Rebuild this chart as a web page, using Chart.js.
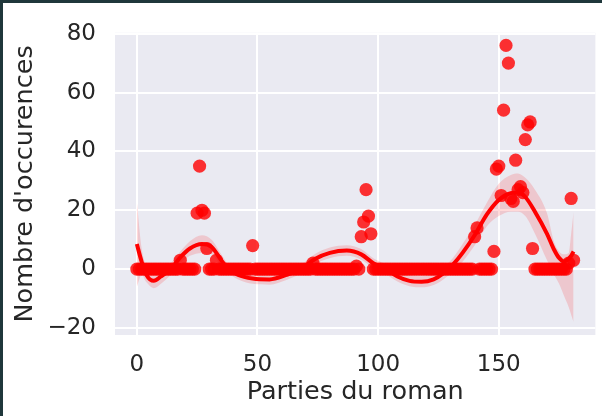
<!DOCTYPE html>
<html><head><meta charset="utf-8">
<script src="https://cdn.jsdelivr.net/npm/chart.js@4/dist/chart.umd.min.js"></script>
<style>html,body{margin:0;padding:0;background:#fff;}canvas{display:block}</style>
</head><body>
<canvas id="c" width="602" height="416"></canvas>
<script>
// Occurrences per part of the novel (index = part number 0..181)
const occurrences = [
  0,0,0,0,0,0,0,0,0,0,
  0,0,0,0,0,0,0,0,3,0,
  0,0,0,0,0,19,35,20,19,7,
  0,0,0,3,0,0,0,0,0,0,
  0,0,0,0,0,0,0,0,8,0,
  0,0,0,0,0,0,0,0,0,0,
  0,0,0,0,0,0,0,0,0,0,
  0,0,0,2,0,0,0,0,0,0,
  0,0,0,0,0,0,0,0,0,0,
  0,1,0,11,16,27,18,12,0,0,
  0,0,0,0,0,0,0,0,0,0,
  0,0,0,0,0,0,0,0,0,0,
  0,0,0,0,0,0,0,0,0,0,
  0,0,0,0,0,0,0,0,0,0,
  11,14,0,0,0,0,0,0,6,34,
  35,25,54,76,70,24,23,37,27,28,
  26,44,49,50,7,0,0,0,0,0,
  0,0,0,0,0,0,0,0,0,2,
  24,3
];
// Regression curve
const fitX    = [0, 2, 4, 7, 10, 14, 18, 22, 27, 31, 35, 38, 42, 48, 55, 62, 68, 74, 80, 87, 93, 98, 103, 108, 113, 118, 123, 127, 131, 135, 140, 145, 150, 155, 158, 161, 165, 170, 173, 175, 177, 179, 180, 181];
const fitY    = [8.5, 2.5, -2, -4, -2.5, 0, 4, 7, 8.5, 7.5, 3, 0, -2, -3.2, -3.5, -2, 0, 3.5, 5.5, 6.3, 5, 2, 0, -2.5, -4, -4.3, -3.5, -1.5, 1.5, 5.5, 11.5, 18.5, 23.5, 25.8, 26, 24.5, 19.5, 12, 6.5, 3.8, 2.6, 3.5, 4.5, 6];
const bandLow = [-6, -2, -4.5, -6.5, -5, -2, 2, 4.5, 5.5, 5, 1, -1.5, -3.5, -5, -5.3, -3.7, -1.5, 1.8, 3.7, 4.5, 3.2, 0.3, -1.7, -4.2, -5.8, -6.2, -5.4, -3.5, -0.8, 2.5, 8, 14.5, 18, 19.5, 19.5, 18, 12, 3, -2, -5, -9, -13, -15.5, -18];
const bandHigh= [23, 7, 1, -1.5, 0, 2, 6, 9.5, 11.5, 10, 5, 1.5, -0.5, -1.5, -1.7, -0.3, 1.5, 5.2, 7.3, 8.1, 6.8, 3.7, 1.7, -0.8, -2.2, -2.4, -1.6, 0.5, 3.8, 8.5, 15, 22.5, 29, 32, 32.5, 31, 27, 19, 9, 6, 5, 5.5, 12, 19.5];
const xTicks = [0, 50, 100, 150];
const yTicks = [-20, 0, 20, 40, 60, 80];
const xLabel = 'Parties du roman';
const yLabel = "Nombre d'occurences";

const pts = occurrences.map((v, i) => ({x: i, y: v}));
const toXY = (ys) => ys.map((v, i) => ({x: fitX[i], y: v}));

const bgPlugin = {
  id: 'bg',
  beforeDraw(chart) {
    const {ctx, chartArea: a} = chart;
    ctx.save();
    ctx.fillStyle = '#ffffff';
    ctx.fillRect(0, 0, chart.width, chart.height);
    ctx.fillStyle = '#1f373b';
    ctx.fillRect(0, 0, chart.width, 3);
    ctx.fillRect(0, 0, 3, chart.height);
    ctx.fillStyle = '#EAEAF2';
    ctx.fillRect(a.left, a.top, a.right - a.left, a.bottom - a.top);
    ctx.restore();
  }
};

const FONT = "'DejaVu Sans', sans-serif";
const TXT = '#262626';

new Chart(document.getElementById('c'), {
  type: 'scatter',
  data: {
    datasets: [
      {data: pts, backgroundColor: 'rgba(255,0,0,0.8)', borderWidth: 0, pointRadius: 6.6, order: 3},
      {data: toXY(bandLow), showLine: true, borderWidth: 0, pointRadius: 0, cubicInterpolationMode: 'monotone', fill: false, order: 2},
      {data: toXY(bandHigh), showLine: true, borderWidth: 0, pointRadius: 0, cubicInterpolationMode: 'monotone', fill: '-1', backgroundColor: 'rgba(255,0,0,0.15)', order: 2},
      {data: toXY(fitY), showLine: true, borderColor: '#ff0000', borderWidth: 4, pointRadius: 0, cubicInterpolationMode: 'monotone', fill: false, order: 1}
    ]
  },
  options: {
    responsive: false,
    devicePixelRatio: 1,
    animation: false,
    events: [],
    layout: {padding: {top: 23, right: 4, bottom: 0, left: 0}},
    plugins: {legend: {display: false}, tooltip: {enabled: false}},
    scales: {
      x: {
        type: 'linear', min: -9.05, max: 190.05,
        afterBuildTicks: s => { s.ticks = xTicks.map(v => ({value: v})); },
        afterFit: s => { s.height = 81; },
        grid: {color: '#ffffff', lineWidth: 2, drawTicks: false},
        border: {display: false},
        ticks: {color: TXT, font: {family: FONT, size: 23}, padding: 16, maxRotation: 0},
        title: {display: true, text: xLabel, color: TXT, font: {family: FONT, size: 25.5}, padding: {top: 0, bottom: 8}}
      },
      y: {
        type: 'linear', min: -22.4, max: 80.3,
        afterBuildTicks: s => { s.ticks = yTicks.map(v => ({value: v})); },
        afterFit: s => { s.width = 115; },
        grid: {color: '#ffffff', lineWidth: 2, drawTicks: false},
        border: {display: false},
        ticks: {color: TXT, font: {family: FONT, size: 23}, padding: 19,
                callback: v => v < 0 ? '\u2212' + Math.abs(v) : String(v)},
        title: {display: true, text: yLabel, color: TXT, font: {family: FONT, size: 25.5}, padding: {top: 10, bottom: 0}}
      }
    }
  },
  plugins: [bgPlugin]
});
</script>
</body></html>
